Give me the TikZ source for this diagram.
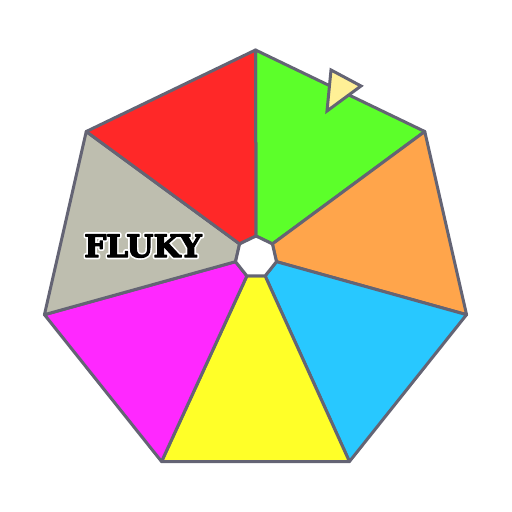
\documentclass[tikz,border=0pt]{standalone}
\usepackage{fontspec}
\newfontfamily\wheelfont{DejaVu Serif}
\usetikzlibrary{calc}
\definecolor{RimGray}{RGB}{100,100,116}
\definecolor{WheelRed}{RGB}{255,40,40}
\definecolor{WheelGreen}{RGB}{92,255,42}
\definecolor{WheelOrange}{RGB}{255,165,75}
\definecolor{WheelBlue}{RGB}{40,200,255}
\definecolor{WheelYellow}{RGB}{255,255,40}
\definecolor{WheelMagenta}{RGB}{255,40,255}
\definecolor{WheelGray}{RGB}{190,190,175}
\definecolor{PointerYellow}{RGB}{255,240,150}
% outlined text: stroke width #1, then the text #2
\newcommand\strokedtext[2]{\special{pdf:literal 2 Tr #1 w 1 j}#2\special{pdf:literal 0 Tr}}
\tikzset{
  sector/.style={draw=RimGray,line width=3pt,line join=round},
  hub/.style={draw=RimGray,fill=white,line width=3pt,line join=round},
  pointer/.style={draw=RimGray,fill=PointerYellow,line width=3pt,line join=miter},
  brand/.style={font=\wheelfont\bfseries\fontsize{31}{31}\selectfont,inner sep=0pt}
}

\begin{document}
\begin{tikzpicture}[x=1pt,y=1pt]
\useasboundingbox (0,0) rectangle (512,512);
\coordinate (oc) at (255.5,245.5);
\coordinate (ic) at (256,255);
% rim and hub corners
\foreach \k in {0,...,6}{
  \coordinate (o\k) at ($(oc)+({90-\k*360/7}:216.5)$);
  \coordinate (i\k) at ($(ic)+({90-\k*360/7}:21)$);
}
% coloured sectors, clockwise from the top
\foreach \col [count=\k from 0] in {WheelGreen,WheelOrange,WheelBlue,WheelYellow,WheelMagenta,WheelGray,WheelRed}{
  \pgfmathtruncatemacro\n{mod(\k+1,7)}
  \draw[sector,fill=\col] (o\k) -- (o\n) -- (i\n) -- (i\k) -- cycle;
}
\draw[hub] (i0) -- (i1) -- (i2) -- (i3) -- (i4) -- (i5) -- (i6) -- cycle;
% pointer
\coordinate (p1) at (331,442);
\coordinate (p2) at (361,426);
\coordinate (p3) at (327,401);
\draw[pointer] (p1) -- (p2) -- (p3) -- cycle;
% label, white halo under a thickened black face
\node[brand] (label) at (143,266)
  {\rlap{\color{white}\strokedtext{4.5}{FLUKY}}\strokedtext{1.2}{FLUKY}};
\end{tikzpicture}
\end{document}
